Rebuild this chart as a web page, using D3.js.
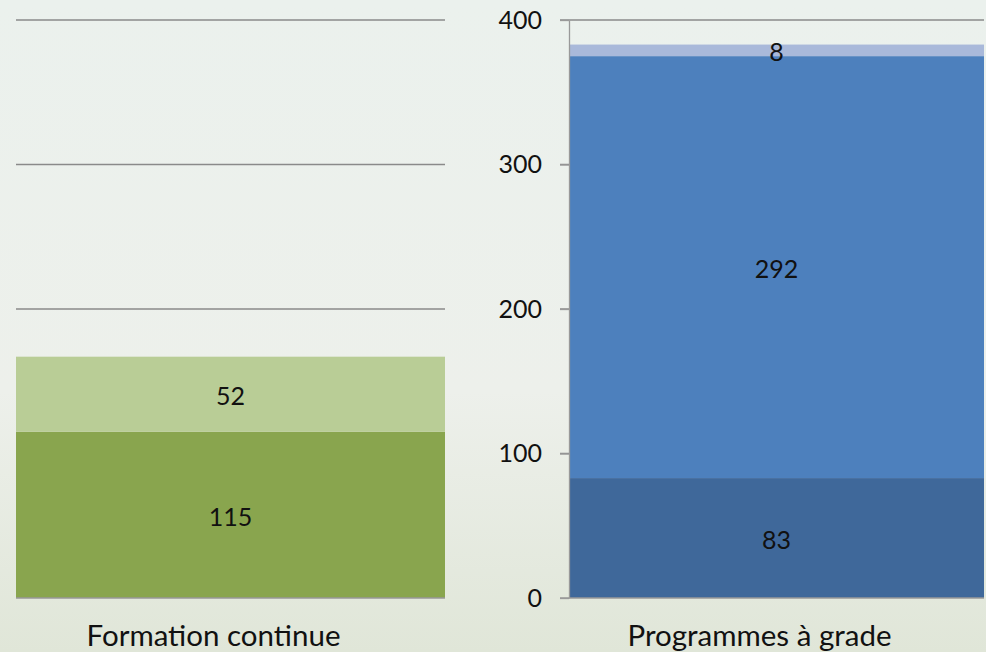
<!DOCTYPE html>
<html>
<head>
<meta charset="utf-8">
<script src="https://cdn.jsdelivr.net/npm/d3@7"></script>
<style>
  html, body { margin: 0; padding: 0; }
  body { width: 986px; height: 652px; overflow: hidden; }
  svg { font-family: Lato, "Open Sans", sans-serif; }
</style>
</head>
<body>
<div id="chart"></div>
<script>
var width = 986,
    height = 652;

// values
let categories = ["Formation continue", "Programmes à grade"];
let leftSeries = [115, 52];
let rightSeries = [83, 292, 8];
let leftColors = ["#89a54e", "#b9cd96"];
let rightColors = ["#3f689a", "#4d80bd", "#a9b9da"];
let yTicks = [0, 100, 200, 300, 400];

let svg = d3.select("#chart")
    .append("svg")
    .attr("width", width)
    .attr("height", height);

// background: pale greenish paper
let defs = svg.append("defs");
let grad = defs.append("linearGradient")
    .attr("id", "bg")
    .attr("x1", 0).attr("y1", 0).attr("x2", 0).attr("y2", 1);
grad.append("stop").attr("offset", "0%").attr("stop-color", "#ebf1ed");
grad.append("stop").attr("offset", "60%").attr("stop-color", "#edf0eb");
grad.append("stop").attr("offset", "100%").attr("stop-color", "#e0e6d8");

svg.append("rect")
    .attr("width", width)
    .attr("height", height)
    .attr("fill", "url(#bg)");

let y = d3.scaleLinear()
    .domain([0, 400])
    .range([598, 20]);

let xLeft = d3.scaleBand()
    .domain([categories[0]])
    .range([16, 445])
    .padding(0);

let xRight = d3.scaleBand()
    .domain([categories[1]])
    .range([569, 984])
    .padding(0);

let stackUp = (values) => {
    let sum = 0;
    let out = [];
    for (var v of values) {
        out.push({value: v, y0: sum, y1: sum + v});
        sum += v;
    }
    return out;
}

let drawPanel = (x, cat, values, colors, gridFrom) => {
    let g = svg.append("g");

    // gridlines
    g.selectAll("line.grid")
        .data(yTicks.filter(d => d > 0))
        .join("line")
        .attr("class", "grid")
        .attr("x1", gridFrom)
        .attr("x2", x.range()[1])
        .attr("y1", d => y(d))
        .attr("y2", d => y(d))
        .attr("stroke", "#8a8a8a")
        .attr("stroke-width", 1.3);

    let segs = stackUp(values);

    g.selectAll("rect")
        .data(segs)
        .join("rect")
        .attr("x", x(cat))
        .attr("width", x.bandwidth())
        .attr("y", d => y(d.y1))
        .attr("height", d => y(d.y0) - y(d.y1))
        .attr("fill", (d, i) => colors[i]);

    g.selectAll("text.val")
        .data(segs)
        .join("text")
        .attr("class", "val")
        .attr("x", x(cat) + x.bandwidth() / 2)
        .attr("y", d => (y(d.y0) + y(d.y1)) / 2)
        .attr("dy", "0.43em")
        .attr("text-anchor", "middle")
        .style("font-size", "25px")
        .attr("fill", "#111")
        .text(d => d.value);

    // baseline
    g.append("line")
        .attr("x1", gridFrom)
        .attr("x2", x.range()[1])
        .attr("y1", y(0))
        .attr("y2", y(0))
        .attr("stroke", "#999")
        .attr("stroke-width", 1.3);

    // category label (sits a bit left of the bar centre in the original)
    g.append("text")
        .attr("x", x(cat) + x.bandwidth() / 2 - 17)
        .attr("y", 646)
        .attr("text-anchor", "middle")
        .style("font-size", "29.5px")
        .attr("fill", "#111")
        .text(cat);
}

drawPanel(xLeft, categories[0], leftSeries, leftColors, 16);
drawPanel(xRight, categories[1], rightSeries, rightColors, 560);

// y axis on the right panel
let yAxis = svg.append("g")
    .attr("transform", "translate(569, 0)")
    .call(d3.axisLeft(y).tickValues(yTicks).tickSize(9).tickPadding(18).tickSizeOuter(0));

yAxis.select(".domain").attr("stroke", "#999").attr("stroke-width", 1.3);
yAxis.selectAll(".tick line").attr("stroke", "#999").attr("stroke-width", 1.3);
yAxis.selectAll(".tick text")
    .attr("fill", "#111")
    .style("font-size", "25px")
    .style("font-family", "Lato, 'Open Sans', sans-serif");
</script>
</body>
</html>
